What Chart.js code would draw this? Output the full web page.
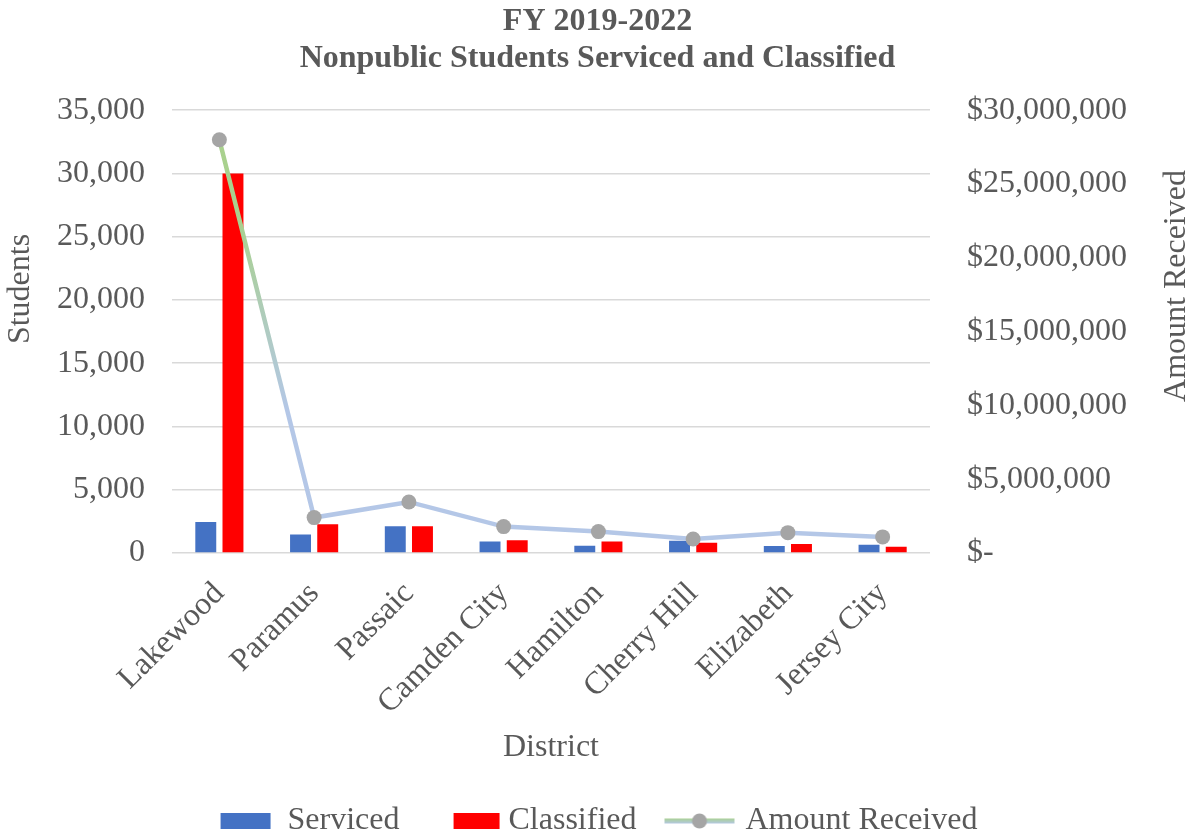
<!DOCTYPE html>
<html>
<head>
<meta charset="utf-8">
<script src="https://cdn.jsdelivr.net/npm/chart.js@4.4.1/dist/chart.umd.min.js"></script>
<style>
  html, body { margin: 0; padding: 0; background: #ffffff; }
  #wrap { width: 1195px; height: 835px; position: relative; }
</style>
</head>
<body>
<div id="wrap"><canvas id="chart"></canvas></div>
<script>
// District categories and the three series
const districts = ['Lakewood', 'Paramus', 'Passaic', 'Camden City', 'Hamilton', 'Cherry Hill', 'Elizabeth', 'Jersey City'];
const serviced = [2450, 1460, 2110, 900, 580, 970, 550, 660];
const classified = [30000, 2270, 2110, 1000, 900, 820, 710, 500];
const amountReceived = [28000000, 2400000, 3460000, 1790000, 1450000, 950000, 1380000, 1090000];

// Axis tick values
const studentTicks = [0, 5000, 10000, 15000, 20000, 25000, 30000, 35000];
const amountTicks = [0, 5000000, 10000000, 15000000, 20000000, 25000000, 30000000];

const titleLines = ['FY 2019-2022', 'Nonpublic Students Serviced and Classified'];
const legendNames = ['Serviced', 'Classified', 'Amount Received'];

const FONT = "'Liberation Serif', 'Times New Roman', serif";
const TEXT = '#595959';
const BLUE = '#4472C4';
const RED = '#FF0000';
const LINE_BLUE = '#B4C7E7';
const LINE_GREEN = '#A9D18E';
const MARKER = '#A5A5A5';
const SWATCH_W = 88;   // legend box slot width
const SWATCH_C = 110;  // swatch canvas width (centred on the slot)
const OFF = (SWATCH_C - SWATCH_W) / 2;

// Legend swatches drawn on small canvases
function swatchRect(color, x0, w) {
  const c = document.createElement('canvas');
  c.width = SWATCH_C; c.height = 16;
  const g = c.getContext('2d');
  g.fillStyle = color;
  g.fillRect(OFF + x0, 0, w, 16);
  return c;
}
function swatchLine(x0, x1) {
  const c = document.createElement('canvas');
  c.width = SWATCH_C; c.height = 16;
  const g = c.getContext('2d');
  const grad = g.createLinearGradient(0, 5, 0, 11);
  grad.addColorStop(0, LINE_GREEN);
  grad.addColorStop(1, LINE_BLUE);
  g.strokeStyle = grad;
  g.lineWidth = 5;
  g.beginPath(); g.moveTo(OFF + x0, 8); g.lineTo(OFF + x1, 8); g.stroke();
  g.fillStyle = MARKER;
  g.beginPath(); g.arc(OFF + (x0 + x1) / 2, 8, 7.5, 0, Math.PI * 2); g.fill();
  return c;
}
const legendStyles = [swatchRect(BLUE, 37, 50), swatchRect(RED, 49, 46), swatchLine(23, 93)];

function lineGradient(context) {
  const chart = context.chart;
  const area = chart.chartArea;
  if (!area) return LINE_BLUE;
  const g = chart.ctx.createLinearGradient(0, area.top, 0, area.bottom);
  g.addColorStop(0, LINE_GREEN);
  g.addColorStop(0.25, LINE_GREEN);
  g.addColorStop(0.68, LINE_BLUE);
  g.addColorStop(1, LINE_BLUE);
  return g;
}

// Vertical axis titles, both reading bottom to top
const axisTitles = {
  id: 'axisTitles',
  afterDraw(chart) {
    const ctx = chart.ctx;
    ctx.save();
    ctx.fillStyle = TEXT;
    ctx.font = '32px ' + FONT;
    ctx.textAlign = 'center';
    ctx.textBaseline = 'middle';
    const items = [['Students', 21, 289], ['Amount Received', 1177, 286]];
    items.forEach(([t, x, y]) => {
      ctx.save();
      ctx.translate(x, y);
      ctx.rotate(-Math.PI / 2);
      ctx.fillText(t, 0, 0);
      ctx.restore();
    });
    ctx.restore();
  }
};

// Nudge the legend row slightly left of centre
const legendShift = {
  id: 'legendShift',
  afterLayout(chart) {
    const lg = chart.legend;
    if (lg) { lg.left -= 17; lg.right -= 17; }
  }
};

new Chart(document.getElementById('chart'), {
  data: {
    labels: districts,
    datasets: [
      {
        type: 'bar', label: 'Serviced', data: serviced, yAxisID: 'y',
        backgroundColor: BLUE, order: 2,
        barPercentage: 0.77, categoryPercentage: 0.574
      },
      {
        type: 'bar', label: 'Classified', data: classified, yAxisID: 'y',
        backgroundColor: RED, order: 2,
        barPercentage: 0.77, categoryPercentage: 0.574
      },
      {
        type: 'line', label: 'Amount Received', data: amountReceived, yAxisID: 'y1',
        borderColor: lineGradient, borderWidth: 4.5, tension: 0,
        pointRadius: 7.5, pointHoverRadius: 7.5, pointBackgroundColor: MARKER,
        pointBorderWidth: 0, pointBorderColor: MARKER, order: 0
      }
    ]
  },
  options: {
    responsive: true,
    maintainAspectRatio: false,
    animation: false,
    layout: { padding: { left: 0, right: 0, top: 0, bottom: -12 } },
    plugins: {
      tooltip: { enabled: false },
      title: {
        display: true, text: titleLines, color: TEXT,
        font: { family: FONT, size: 32, weight: 'bold', lineHeight: 1.16 },
        padding: { top: 3, bottom: 33 }
      },
      legend: {
        position: 'bottom',
        labels: {
          color: TEXT,
          font: { family: FONT, size: 32 },
          usePointStyle: true,
          pointStyleWidth: SWATCH_W,
          padding: 5,
          generateLabels() {
            return legendNames.map((t, i) => ({
              text: t, pointStyle: legendStyles[i], fontColor: TEXT,
              datasetIndex: i, hidden: false, lineWidth: 0
            }));
          }
        }
      }
    },
    scales: {
      x: {
        grid: { display: false },
        border: { display: false },
        ticks: {
          color: TEXT, font: { family: FONT, size: 32 },
          minRotation: 45, maxRotation: 45, autoSkip: false, padding: 14
        },
        title: {
          display: true, text: 'District', color: TEXT,
          font: { family: FONT, size: 32 }, padding: { top: 10, bottom: 33 }
        },
        afterFit(scale) { scale.height = 247; }
      },
      y: {
        position: 'left', min: 0, max: 35000,
        afterBuildTicks(scale) { scale.ticks = studentTicks.map(v => ({ value: v })); },
        grid: { color: '#D9D9D9', lineWidth: 1.5, drawTicks: false },
        border: { display: false },
        ticks: {
          color: TEXT, font: { family: FONT, size: 32 }, padding: 27,
          callback: v => Number(v).toLocaleString('en-US')
        },
        afterFit(scale) { scale.width = 172; }
      },
      y1: {
        position: 'right', min: 0, max: 30000000,
        afterBuildTicks(scale) { scale.ticks = amountTicks.map(v => ({ value: v })); },
        grid: { drawOnChartArea: false, drawTicks: false },
        border: { display: false },
        ticks: {
          color: TEXT, font: { family: FONT, size: 32 }, padding: 37,
          callback: v => v === 0 ? '$-' : '$' + Number(v).toLocaleString('en-US')
        },
        afterFit(scale) { scale.width = 265; }
      }
    }
  },
  plugins: [axisTitles, legendShift]
});
</script>
</body>
</html>
